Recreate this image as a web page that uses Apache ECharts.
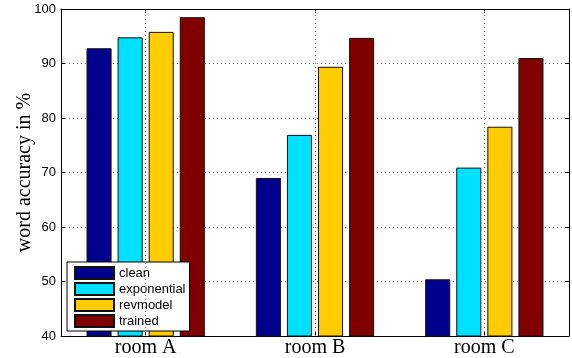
<!DOCTYPE html>
<html><head><meta charset="utf-8">
<script src="https://cdn.jsdelivr.net/npm/echarts@6/dist/echarts.min.js"></script>
<style>html,body{margin:0;padding:0;background:#fff}#c{width:572px;height:358px}</style>
</head><body><div id="c"></div>
<script>
const categories = ['room A', 'room B', 'room C'];
const seriesNames = ['clean', 'exponential', 'revmodel', 'trained'];
const clean = [92.8, 69.0, 50.4];
const exponential = [94.8, 76.9, 70.9];
const revmodel = [95.8, 89.4, 78.4];
const trained = [98.5, 94.7, 91.0];
const yTicks = [40, 50, 60, 70, 80, 90, 100];
const colors = ['#00008C', '#00E1FF', '#FFCC00', '#800000'];

const values = [clean, exponential, revmodel, trained];
const chart = echarts.init(document.getElementById('c'));
const series = seriesNames.map((n, i) => ({
  name: n, type: 'bar', data: values[i], z: 3,
  barWidth: '14.8%', barGap: '24%',
  itemStyle: { color: colors[i], borderColor: '#111', borderWidth: 1 }
}));
series.push({
  name: '_grid', type: 'line', data: [], z: 1, silent: true,
  markLine: {
    silent: true, symbol: 'none', label: { show: false },
    lineStyle: { color: '#777', type: [1, 3], width: 1 },
    data: categories.map(c => ({ xAxis: c }))
  }
});
chart.setOption({
  animation: false,
  color: colors,
  grid: { left: 61, right: 3, top: 9, bottom: 22 },
  legend: {
    data: seriesNames, orient: 'vertical', left: 67, top: 262,
    itemWidth: 39, itemHeight: 12, itemGap: 2,
    padding: [4, 4, 3, 7],
    backgroundColor: '#fff', borderColor: '#000', borderWidth: 1, borderRadius: 0,
    icon: 'rect',
    textStyle: { fontFamily: 'Liberation Sans', fontSize: 13, color: '#000' }
  },
  xAxis: [{
    type: 'category', data: categories, position: 'bottom',
    axisLine: { lineStyle: { color: '#000' } },
    axisTick: { show: true, inside: true, alignWithLabel: true, length: 4, lineStyle: { color: '#000' } },
    axisLabel: { fontFamily: 'Liberation Serif', fontSize: 20, color: '#000', margin: 2 },
    splitLine: { show: false }
  }, {
    type: 'category', data: categories, position: 'top',
    axisLine: { lineStyle: { color: '#000' } },
    axisTick: { show: true, inside: true, alignWithLabel: true, length: 4, lineStyle: { color: '#000' } },
    axisLabel: { show: false }
  }],
  yAxis: [{
    type: 'value', min: 40, max: 100, interval: 10, position: 'left',
    name: 'word accuracy in %', nameLocation: 'middle', nameGap: 26, nameMoveOverlap: false,
    nameTextStyle: { fontFamily: 'Liberation Serif', fontSize: 20, color: '#000' },
    axisLine: { show: true, lineStyle: { color: '#000' } },
    axisTick: { show: true, inside: true, length: 4, lineStyle: { color: '#000' } },
    axisLabel: { fontFamily: 'Liberation Sans', fontSize: 13, color: '#000', margin: 5,
      formatter: v => yTicks.includes(v) ? String(v) : '' },
    splitLine: { show: true, lineStyle: { color: '#777', type: [1, 3], width: 1 } }
  }, {
    type: 'value', min: 40, max: 100, interval: 10, position: 'right',
    axisLine: { show: true, lineStyle: { color: '#000' } },
    axisTick: { show: true, inside: true, length: 4, lineStyle: { color: '#000' } },
    axisLabel: { show: false }, splitLine: { show: false }
  }],
  series: series
});
</script></body></html>
